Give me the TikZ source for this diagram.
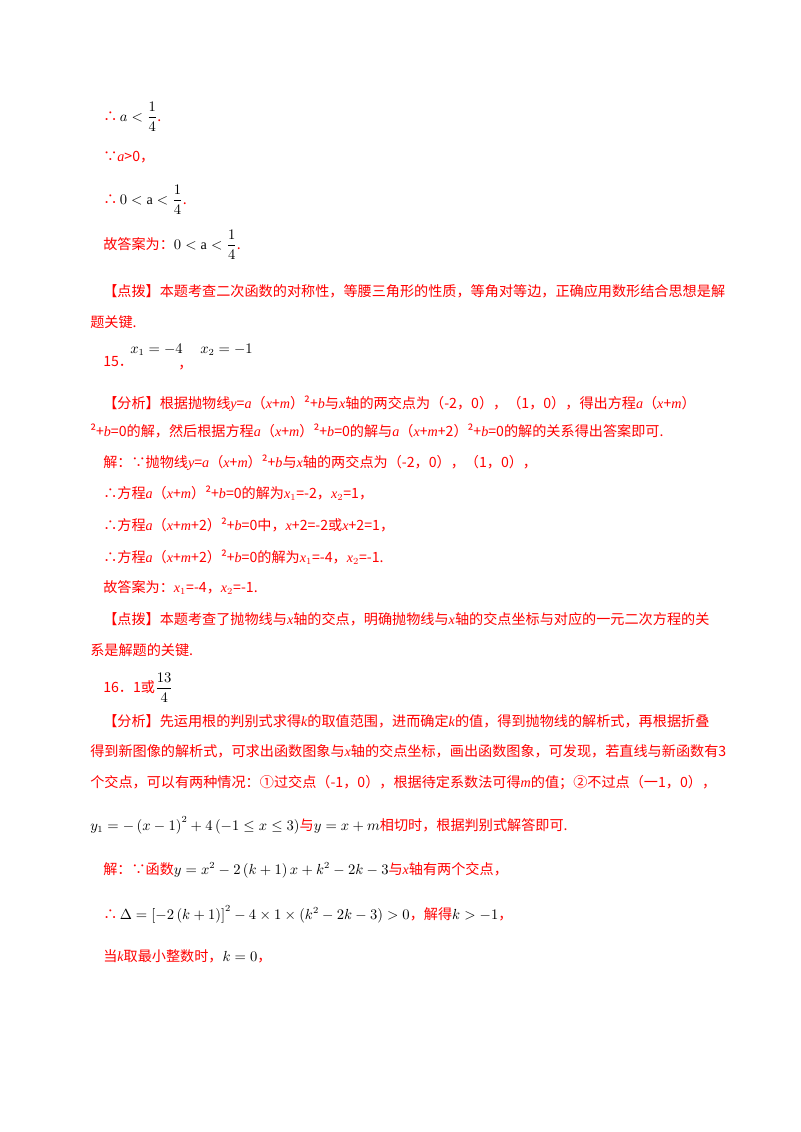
\documentclass[tikz,border=0pt]{standalone}
\usepackage{amsmath,amssymb}
\usepackage{fontspec}
\setmainfont{Liberation Serif}
\newfontfamily\cjk{Noto Sans CJK SC}
\newfontfamily\lat{Liberation Serif}
\newcommand{\blk}[1]{\textcolor{black}{#1}}
\newcommand{\iv}[1]{{\lat\itshape #1}}
\tikzset{
  ln/.style={anchor=base west,inner sep=0pt,text=red,font=\cjk\fontsize{10.6}{12}\selectfont},
  mth/.style={anchor=base west,inner sep=0pt,font=\fontsize{10.6}{12}\selectfont}
}
\begin{document}
\begin{tikzpicture}[x=0.75pt,y=-0.75pt]
  \useasboundingbox (0,0) rectangle (800,1132);
  % top part, end of previous solution
  \node[ln] (l1) at (103,121) {∴\,\blk{$a<\dfrac14$}.};
  \node[ln] (l2) at (103,161) {∵\iv{a}>0，};
  \node[ln] (l3) at (103,204) {∴\,\blk{$0<\mathrm{a}<\dfrac14$}.};
  \node[ln] (l4) at (103,249) {故答案为：\blk{$0<\mathrm{a}<\dfrac14$}.};
  \node[ln] (l5) at (103,296) {【点拨】本题考查二次函数的对称性，等腰三角形的性质，等角对等边，正确应用数形结合思想是解};
  \node[ln] (l6) at (90,327) {题关键.};
  % 15
  \node[ln] (n15) at (103,366) {15．};
  \node[mth] (x12) at (130,353) {$x_1=-4$};
  \node[ln] (cm) at (178,368) {，};
  \node[mth] (x22) at (200,353) {$x_2=-1$};
  \node[ln] (a1) at (103,408) {【分析】根据抛物线\iv{y}=\iv{a}（\iv{x}+\iv{m}）²+\iv{b}与\iv{x}轴的两交点为（-2，0），（1，0），得出方程\iv{a}（\iv{x}+\iv{m}）};
  \node[ln] (a2) at (90,436) {²+\iv{b}=0的解，然后根据方程\iv{a}（\iv{x}+\iv{m}）²+\iv{b}=0的解与\iv{a}（\iv{x}+\iv{m}+2）²+\iv{b}=0的解的关系得出答案即可.};
  \node[ln] (s1) at (103,467) {解：∵抛物线\iv{y}=\iv{a}（\iv{x}+\iv{m}）²+\iv{b}与\iv{x}轴的两交点为（-2，0），（1，0），};
  \node[ln] (s2) at (103,498) {∴方程\iv{a}（\iv{x}+\iv{m}）²+\iv{b}=0的解为\iv{x}$_1$=-2，\iv{x}$_2$=1，};
  \node[ln] (s3) at (103,530) {∴方程\iv{a}（\iv{x}+\iv{m}+2）²+\iv{b}=0中，\iv{x}+2=-2或\iv{x}+2=1，};
  \node[ln] (s4) at (103,562) {∴方程\iv{a}（\iv{x}+\iv{m}+2）²+\iv{b}=0的解为\iv{x}$_1$=-4，\iv{x}$_2$=-1.};
  \node[ln] (s5) at (103,592) {故答案为：\iv{x}$_1$=-4，\iv{x}$_2$=-1.};
  \node[ln] (d1) at (103,624) {【点拨】本题考查了抛物线与\iv{x}轴的交点，明确抛物线与\iv{x}轴的交点坐标与对应的一元二次方程的关};
  \node[ln] (d2) at (90,655) {系是解题的关键.};
  % 16
  \node[ln] (n16) at (103,692) {16．1或};
  \node[mth] (fr) at (155,692) {$\dfrac{13}{4}$};
  \node[ln] (b1) at (103,726) {【分析】先运用根的判别式求得\iv{k}的取值范围，进而确定\iv{k}的值，得到抛物线的解析式，再根据折叠};
  \node[ln] (b2) at (90,756) {得到新图像的解析式，可求出函数图象与\iv{x}轴的交点坐标，画出函数图象，可发现，若直线与新函数有3};
  \node[ln] (b3) at (90,787) {个交点，可以有两种情况：①过交点（-1，0），根据待定系数法可得\iv{m}的值；②不过点（一1，0），};
  \node[ln] (b4) at (90,830) {\blk{$y_1=-\left(x-1\right)^2+4\left(-1\le x\le 3\right)$}与\blk{$y=x+m$}相切时，根据判别式解答即可.};
  \node[ln] (c1) at (103,874) {解：∵函数\blk{$y=x^2-2\left(k+1\right)x+k^2-2k-3$}与\iv{x}轴有两个交点，};
  \node[ln] (c2) at (103,919) {∴\,\blk{$\Delta=\left[-2\left(k+1\right)\right]^2-4\times1\times\left(k^2-2k-3\right)>0$}，解得\blk{$k>-1$}，};
  \node[ln] (c3) at (103,961) {当\iv{k}取最小整数时，\blk{$k=0$}，};
\end{tikzpicture}
\end{document}
